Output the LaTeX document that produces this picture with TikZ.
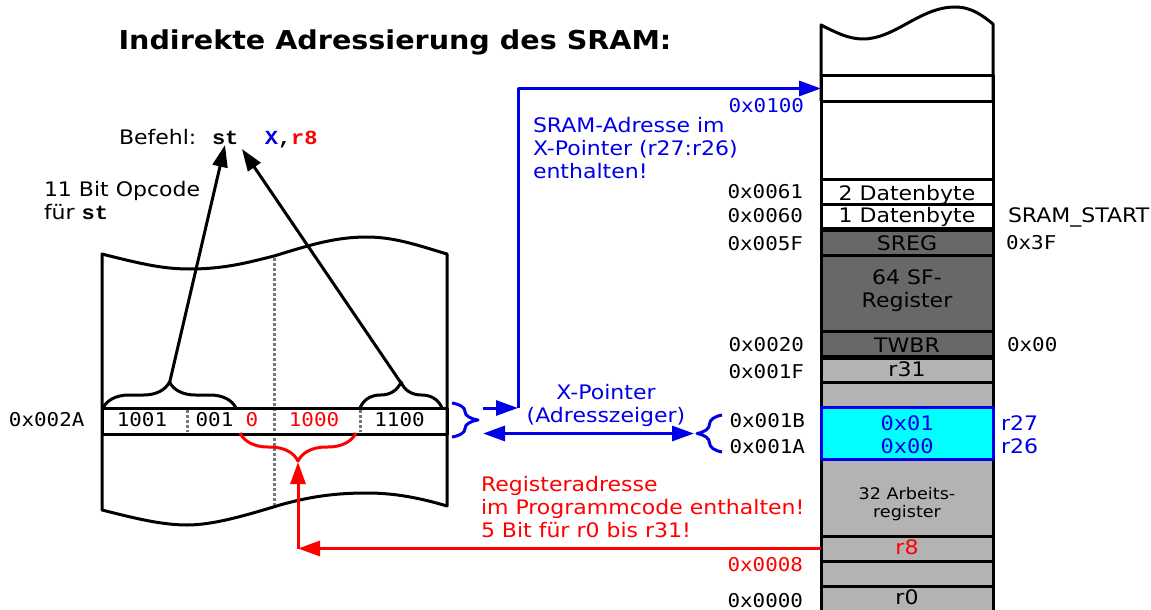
\documentclass[tikz,border=0pt]{standalone}
\usepackage{fontspec}
\setmainfont{DejaVu Sans}[FakeStretch=1.1]
\newfontfamily\addrfont{DejaVu Sans Mono}[FakeStretch=1.1]
\newfontfamily\opfont{Liberation Mono}[FakeStretch=1.1]
\usetikzlibrary{arrows.meta,decorations.pathreplacing}
\definecolor{regdark}{RGB}{104,104,104}
\definecolor{reglight}{RGB}{179,179,179}
\definecolor{xblue}{RGB}{0,0,230}
\definecolor{xcyan}{RGB}{0,255,255}
\definecolor{sepgray}{RGB}{120,120,120}
\tikzset{
  every node/.style={inner sep=0pt, outer sep=0pt},
  txt/.style={font=\fontsize{20}{23}\selectfont},
  smalltxt/.style={font=\fontsize{16}{18}\selectfont},
  addr/.style={font=\addrfont\fontsize{19}{23}\selectfont},
  ttl/.style={font=\fontsize{26}{30}\selectfont\bfseries},
  cell/.style={draw, line width=3pt, minimum width=172pt, anchor=north west},
  darkcell/.style={cell, fill=regdark},
  lightcell/.style={cell, fill=reglight},
  arr/.style={line width=3pt, -{Triangle[length=22pt,width=15pt]}},
  brc/.style={line width=3pt, decorate, decoration={brace, amplitude=#1}},
  sepline/.style={sepgray, line width=3pt, dash pattern=on 2.5pt off 2.5pt},
}
\begin{document}
\begin{tikzpicture}[x=1pt,y=-1pt,line join=round]
\clip (0,0) rectangle (1151,610);
\fill[white] (0,0) rectangle (1151,610);

% ---------- title ----------
\node[ttl, anchor=base west] (title) at (118.5,50) {Indirekte Adressierung des SRAM:};

% ---------- memory map (SRAM) ----------
\draw[line width=3pt] (821,101) -- (821,25)
  .. controls (835,32) and (848,39) .. (863,39)
  .. controls (895,39) and (920,7) .. (955,7)
  .. controls (972,7) and (983,16) .. (993,24) -- (993,101);
\node[cell, minimum height=25pt] (mtop) at (821,76) {};
\node[cell, minimum height=78pt] (mfree) at (821,101) {};
\node[cell, minimum height=25pt] (d2) at (821,179) {};
\node[cell, minimum height=25pt] (d1) at (821,204) {};
\node[darkcell, minimum height=26pt] (sreg) at (821,229) {};
\node[darkcell, minimum height=76pt] (sf) at (821,255) {};
\node[darkcell, minimum height=26pt] (twbr) at (821,331) {};
\node[lightcell, minimum height=25pt] (r31) at (821,357) {};
\node[lightcell, minimum height=25pt] (rgap) at (821,382) {};
\node[lightcell, minimum height=77pt] (arb) at (821,459) {};
\node[lightcell, minimum height=25pt] (r8) at (821,536) {};
\node[lightcell, minimum height=25pt] (rlow) at (821,561) {};
\node[lightcell, minimum height=40pt] (r0) at (821,586) {};
\node[cell, draw=xblue, fill=xcyan, line width=3pt, minimum height=52pt] (xreg) at (821,407) {};
\draw[line width=5pt] (d1.south west) -- (d1.south east);
\draw[line width=5pt] (twbr.south west) -- (twbr.south east);

% cell contents
\node[txt, anchor=base] (t2) at (907,200) {2 Datenbyte};
\node[txt, anchor=base] (t1) at (907,222.5) {1 Datenbyte};
\node[txt, anchor=base] (tsreg) at (907,250.5) {SREG};
\node[txt, anchor=base, align=center] (tsf) at (907,307) {64 SF-\\Register};
\node[txt, anchor=base] (ttwbr) at (907,352) {TWBR};
\node[txt, anchor=base] (tr31) at (907,376.5) {r31};
\node[addr, anchor=base, text=xblue, font=\addrfont\fontsize{20}{23}\selectfont] (tx1) at (907,430.5) {0x01};
\node[addr, anchor=base, text=xblue, font=\addrfont\fontsize{20}{23}\selectfont] (tx0) at (907,453) {0x00};
\node[smalltxt, anchor=base, align=center] (tarb) at (907,517) {32 Arbeits-\\register};
\node[txt, anchor=base, text=red] (tr8) at (907,554) {r8};
\node[txt, anchor=base] (tr0) at (907,604) {r0};

% addresses left of the map
\node[addr, anchor=base east, text=xblue] (a100) at (804,112) {0x0100};
\node[addr, anchor=base east] (a61) at (803,198) {0x0061};
\node[addr, anchor=base east] (a60) at (803,222) {0x0060};
\node[addr, anchor=base east] (a5f) at (803,250) {0x005F};
\node[addr, anchor=base east] (a20) at (804,351) {0x0020};
\node[addr, anchor=base east] (a1f) at (804,378) {0x001F};
\node[addr, anchor=base east] (a1b) at (805,427) {0x001B};
\node[addr, anchor=base east] (a1a) at (805,453) {0x001A};
\node[addr, anchor=base east, text=red] (a08) at (803,571) {0x0008};
\node[addr, anchor=base east] (a00) at (803,607) {0x0000};

% labels right of the map
\node[txt, anchor=base west] (sstart) at (1008,222) {SRAM\_START};
\node[addr, anchor=base west] (io3f) at (1006,249) {0x3F};
\node[addr, anchor=base west] (io00) at (1007,351) {0x00};
\node[txt, anchor=base west, text=xblue] (r27) at (1001,430) {r27};
\node[txt, anchor=base west, text=xblue] (r26) at (1001,453) {r26};

% ---------- program memory (flash) ----------
\draw[line width=3pt] (102,254)
  .. controls (145,265) and (165,269) .. (190,269)
  .. controls (225,269) and (250,262) .. (274,256)
  .. controls (310,245) and (335,237) .. (367,237)
  .. controls (395,237) and (420,246) .. (447,254)
  -- (447,506)
  .. controls (420,498) and (395,493) .. (367,493)
  .. controls (330,493) and (305,498) .. (280,505)
  .. controls (250,514) and (215,525) .. (187,525)
  .. controls (160,525) and (130,517) .. (102,510) -- cycle;
\draw[sepline] (274,258) -- (274,505);
\node[draw, line width=3pt, minimum width=345pt, minimum height=26pt, anchor=north west] (word) at (102,408) {};
\draw[sepline] (187,410) -- (187,432);
\draw[sepline] (360,410) -- (360,432);
\node[addr, anchor=base west] (a2a) at (9,426) {0x002A};
\node[addr, anchor=base] (b1) at (142,426) {1001};
\node[addr, anchor=base] (b2) at (214.5,426) {001};
\node[addr, anchor=base, text=red] (b3) at (252,426) {0};
\node[addr, anchor=base, text=red] (b4) at (314,426) {1000};
\node[addr, anchor=base] (b5) at (399.5,426) {1100};

% instruction text
\node[txt, anchor=base west] (befehl) at (119,144) {Befehl:};
\node[anchor=base west, font=\opfont\fontsize{20}{23}\selectfont\bfseries] (instr) at (212,144)
  {st\ \ \textcolor{xblue}{X},\textcolor{red}{r8}};
\node[txt, anchor=base west, align=left] (opc) at (44,219) {11 Bit Opcode\\f\"ur {\opfont\bfseries st}};

% opcode braces and arrows to the mnemonic
\draw[brc=26pt] (103,408) -- (236,408);
\draw[brc=26pt] (360,408) -- (442,408);
\coordinate (op1) at (169.5,383);
\coordinate (op2) at (401,383);
\coordinate (st1) at (225,145);
\coordinate (st2) at (242,149);
\draw[arr] (op1) -- (st1);
\draw[arr] (op2) -- (st2);

% register field: brace, arrows from r8
\draw[red, brc=28pt] (356,433) -- (240,433);
\coordinate (rtip) at (298,462);
\coordinate (rc) at (298,548.5);
\draw[red, arr] (r8.west) -- (rc);
\draw[red, arr] (rc) -- (rtip);
\node[txt, anchor=base west, align=left, text=red] (regtxt) at (481,537)
  {Registeradresse\\im Programmcode enthalten!\\5 Bit f\"ur r0 bis r31!};

% X pointer: braces and arrows
\draw[xblue, brc=26pt] (452,403) -- (452,437);
\draw[xblue, brc=25pt] (722,452) -- (722,415);
\coordinate (xs) at (483,408);
\coordinate (xc) at (518,408);
\draw[xblue, arr] (xs) -- (xc);
\draw[xblue, arr] (xc) |- (mtop.west);
\coordinate (pl) at (483,433.5);
\coordinate (pr) at (694,433.5);
\draw[xblue, line width=3pt, {Triangle[length=22pt,width=15pt]}-{Triangle[length=22pt,width=15pt]}] (pl) -- (pr);
\node[txt, anchor=base, align=center, text=xblue] (xptr) at (606,422) {X-Pointer\\(Adresszeiger)};
\node[txt, anchor=base west, align=left, text=xblue] (sramtxt) at (533,178)
  {SRAM-Adresse im\\X-Pointer (r27:r26)\\enthalten!};
\end{tikzpicture}
\end{document}
